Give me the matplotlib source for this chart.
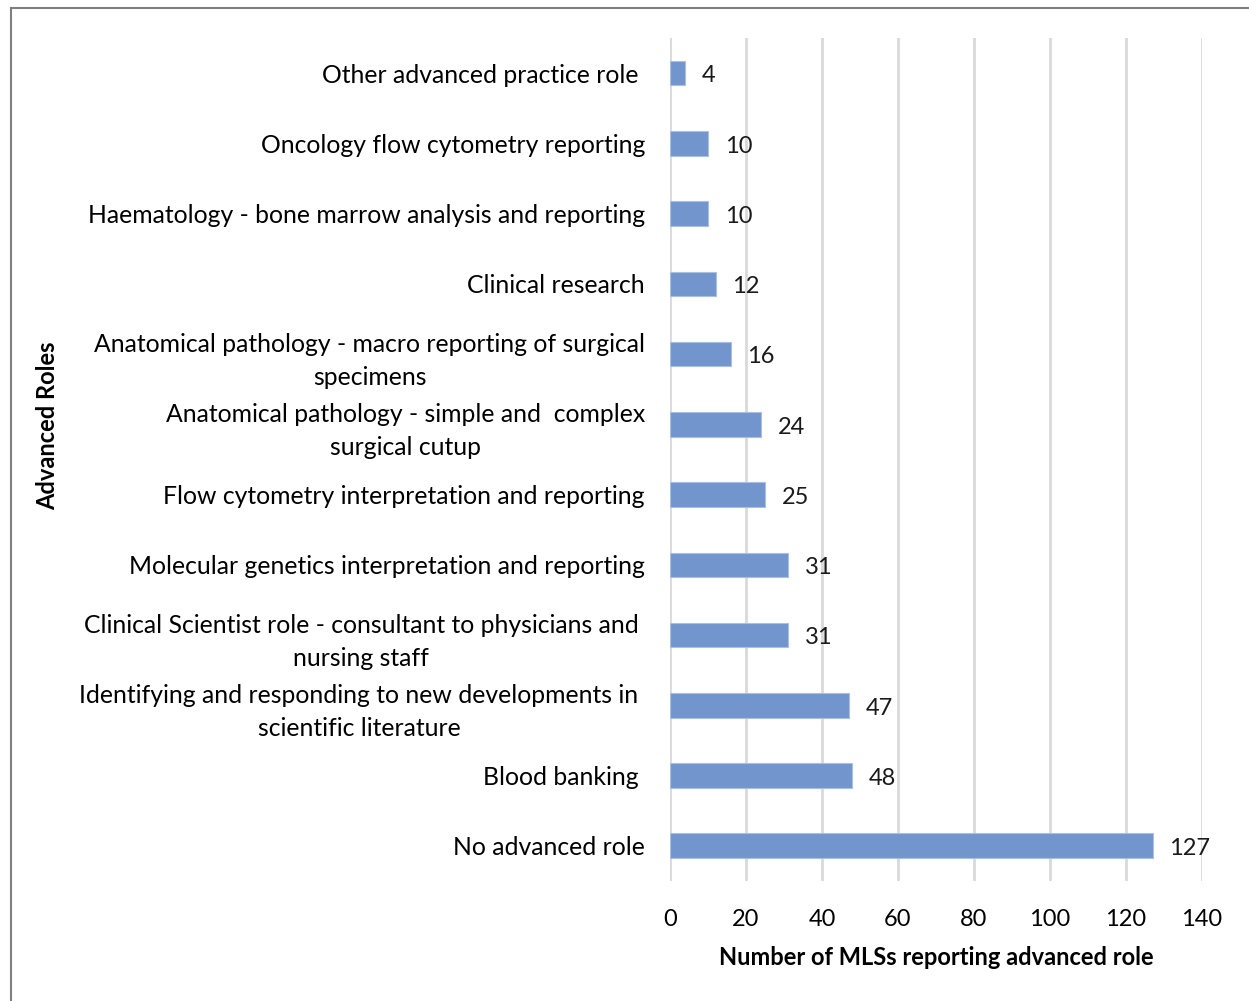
import matplotlib.pyplot as plt
from matplotlib.lines import Line2D

plt.rcParams['font.family'] = ['Lato', 'DejaVu Sans']

roles = [
    'No advanced role',
    'Blood banking ',
    'Identifying and responding to new developments in \nscientific literature ',
    'Clinical Scientist role - consultant to physicians and \nnursing staff ',
    'Molecular genetics interpretation and reporting',
    'Flow cytometry interpretation and reporting',
    'Anatomical pathology - simple and  complex\nsurgical cutup',
    'Anatomical pathology - macro reporting of surgical\nspecimens',
    'Clinical research',
    'Haematology - bone marrow analysis and reporting',
    'Oncology flow cytometry reporting',
    'Other advanced practice role ',
]
counts = [127, 48, 47, 31, 31, 25, 24, 16, 12, 10, 10, 4]

fig = plt.figure(figsize=(12.49, 10.01), dpi=100)
ax = fig.add_axes([0.5364, 0.12, 0.4260, 0.842])

y = range(len(roles))
ax.barh(y, counts, height=0.35, color='#7295CE', edgecolor='#A9BFE3',
        linewidth=0.8, zorder=3)
for yi, c in zip(y, counts):
    ax.annotate(str(c), (c, yi), xytext=(12, -2), textcoords='offset points',
                ha='left', va='center', fontsize=17, color='#1a1a1a')

ax.set_xlim(0, 140)
ax.set_ylim(-0.5, len(roles) - 0.5)
ax.set_xticks(range(0, 141, 20))
ax.set_yticks(list(y))
ax.set_yticklabels(roles, fontsize=17.8, multialignment='center',
                   linespacing=1.52)
ax.tick_params(axis='y', length=0, pad=18)
ax.tick_params(axis='x', length=0, pad=20, labelsize=17)
ax.grid(axis='x', color='#D9D9D9', linewidth=2, zorder=0)
ax.set_axisbelow(True)
for s in ax.spines.values():
    s.set_visible(False)

ax.set_xlabel('Number of MLSs reporting advanced role', fontsize=17,
              fontweight='bold', labelpad=12)
fig.text(0.038, 0.575, 'Advanced Roles', rotation=90, fontsize=17,
         fontweight='bold', ha='center', va='center')

# chart border (left and top only visible)
fig.add_artist(Line2D([0.0085, 0.0085], [0.0, 0.992], color='#7F7F7F',
                      linewidth=1.5, transform=fig.transFigure))
fig.add_artist(Line2D([0.0085, 1.0], [0.992, 0.992], color='#7F7F7F',
                      linewidth=1.5, transform=fig.transFigure))

fig.savefig('out.png', dpi=100)
